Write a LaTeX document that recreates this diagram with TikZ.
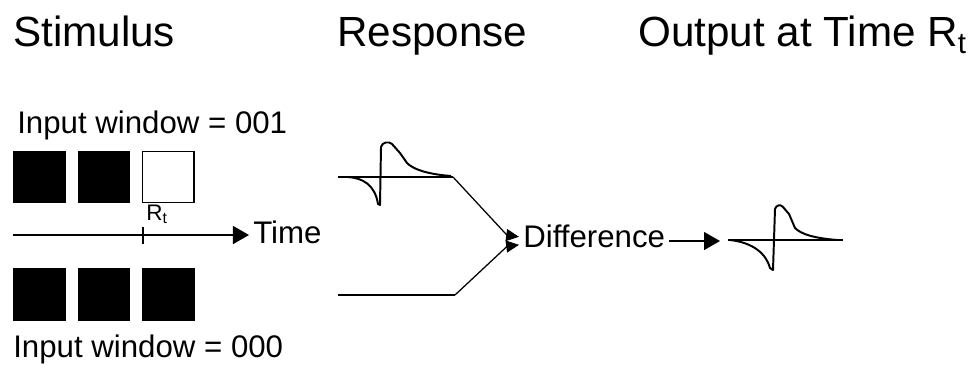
\documentclass[tikz,border=0pt]{standalone}
\usepackage{fontspec}
\setmainfont{Liberation Sans}
\usetikzlibrary{shapes,arrows.meta}
\tikzstyle{sqon} = [rectangle, fill=black, minimum size=1.31cm, inner sep=0pt]
\tikzstyle{sqoff} = [rectangle, draw, line width=1pt, minimum size=1.28cm, inner sep=0pt]
\tikzstyle{judul} = [font=\fontsize{30}{32}\selectfont, inner sep=0pt, anchor=base west]
\tikzstyle{teks} = [font=\fontsize{22.2}{24}\selectfont, inner sep=0pt]
\tikzstyle{line} = [draw, line width=1pt, -{Triangle[length=0.4cm,width=0.45cm]}]
\tikzstyle{lineb} = [draw, line width=0.9pt, -{Triangle[length=0.32cm,width=0.3cm]}]
\tikzstyle{wave} = [draw, line width=1.4pt, line join=round]

\begin{document}
\begin{tikzpicture}[x=0.025cm, y=-0.025cm, node distance=1.61cm]
\useasboundingbox (0,0) rectangle (974,364);

% judul
\node [judul] (stim) at (13,46) {Stimulus};
\node [judul] (resp) at (337,46) {Response};
\node [judul] (outp) at (638,46) {Output at Time R\textsubscript{t}};

% stimulus
\node [teks, anchor=base west] (win1) at (17,133) {Input window = 001};
\node [sqon] (a1) at (39.5,177) {};
\node [sqon, right of=a1] (a2) {};
\node [sqoff, right of=a2] (a3) {};
\node [sqon, below of=a1, node distance=2.94cm] (b1) {};
\node [sqon, right of=b1] (b2) {};
\node [sqon, right of=b2] (b3) {};
\node [teks, anchor=base west] (win0) at (13,357) {Input window = 000};

\coordinate (axL) at (13,235);
\coordinate (tick) at (143,235);
\node [teks, anchor=west, inner xsep=0.1cm] (time) at (249,232) {Time};
\node [anchor=base west, inner sep=0pt, font=\fontsize{16}{17}\selectfont] (rt) at (146,220) {R\textsubscript{t}};
\path[line] (axL) -- (axL -| time.west);
\draw [line width=1pt] (tick) ++(0,-8) -- ++(0,17);

% response
\coordinate (rtopL) at (338,177);
\coordinate (rtopR) at (453,177);
\coordinate (rbotL) at (338,295);
\coordinate (rbotR) at (455,295);
\draw [wave] (rtopL) -- (rtopR);
\draw [wave] (rbotL) -- (rbotR);
\draw [wave, shift={(381,177)}] (-33,0) .. controls (-18,1) and (-6,8) .. (-3,27) -- (-1,28) -- (0,-30)
  .. controls (1,-35) and (8,-36) .. (11,-33) -- (19,-24) -- (26,-14)
  .. controls (32,-8) and (45,-3) .. (70,-1);

% selisih
\node [teks, anchor=west, inner xsep=0.1cm] (diff) at (519,236) {Difference};
\path[lineb] (rtopR) -- ([xshift=-0.3cm,yshift=0.02cm]diff.west) -- ([yshift=-0.02cm]diff.west);
\path[lineb] (rbotR) -- ([xshift=-0.3cm,yshift=-0.26cm]diff.west) -- ([yshift=-0.22cm]diff.west);

% output
\coordinate (outIn) at (720,241);
\coordinate (outL) at (728,240);
\coordinate (outR) at (843,240);
\path[line] (diff.east |- outIn) -- (outIn);
\draw [wave] (outL) -- (outR);
\draw [wave, shift={(773,240)}] (-43,0) .. controls (-25,2) and (-8,10) .. (-3,28) -- (0,30) -- (2,-31)
  .. controls (3,-35) and (8,-36) .. (10,-33) -- (16,-26) -- (22,-12)
  .. controls (28,-6) and (40,-2) .. (64,0);
\end{tikzpicture}
\end{document}
